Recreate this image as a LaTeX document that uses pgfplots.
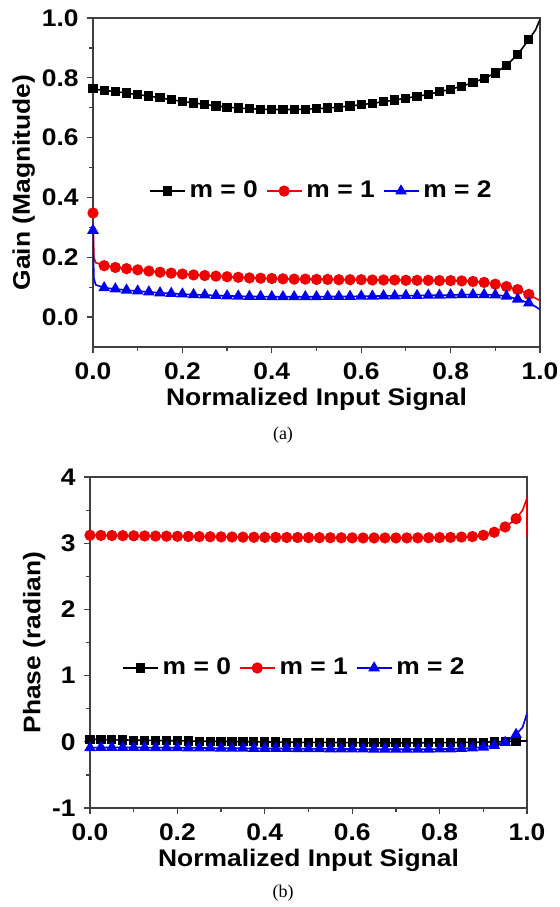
\documentclass[border=0pt]{standalone}
\usepackage{pgfplots}
\pgfplotsset{compat=1.18}
\usepackage{fontspec}
\setmainfont{Liberation Sans}[FakeStretch=1.1]
\newfontfamily\capfont{Liberation Serif}
\definecolor{myred}{RGB}{240,0,0}
\definecolor{myblue}{RGB}{0,0,240}
\begin{document}
\begin{tikzpicture}[x=1pt,y=1pt]
\path[use as bounding box] (0,0) rectangle (279.5,-453.5);
\pgfplotsset{
  onedec/.style={/pgf/number format/fixed, /pgf/number format/fixed zerofill, /pgf/number format/precision=1},
  myaxis/.style={
    scale only axis,
    xmin=0, xmax=1,
    axis line style={black!75, line width=0.6pt},
    tick style={black!75, line width=0.6pt},
    tick align=outside,
    xtick pos=left, ytick pos=left,
    major tick length=3pt, minor tick length=1.8pt,
    minor x tick num=1, minor y tick num=1,
    xtick={0,0.2,0.4,0.6,0.8,1},
    font=\fontsize{12}{13}\selectfont\bfseries,
    /pgf/number format/assume math mode=true,
    xticklabel style={onedec, inner sep=0pt, anchor=north},
    yticklabel style={inner sep=0pt, anchor=east},
    xticklabel shift=4.5pt,
    yticklabel shift=4pt,
    every axis x label/.style={at={(axis description cs:0.5,0)}, anchor=north, yshift=-20.5pt, inner sep=0pt},
    legend columns=3,
    legend cell align=left,
    legend style={draw=none, fill=none, font=\fontsize{12}{13}\selectfont\bfseries,
      /tikz/every even column/.append style={column sep=2pt}},
    legend image code/.code={\draw[##1, mark repeat=2, mark phase=2] plot coordinates {(0pt,0pt)(8.75pt,0pt)(17.5pt,0pt)};},
    blk/.style={black, line width=0.8pt, mark=square*, mark size=1.9pt, mark options={solid}},
    rd/.style={myred, line width=0.8pt, mark=*, mark size=2.4pt, mark options={solid}},
    bl/.style={myblue, line width=0.8pt, mark=triangle*, mark size=2.6pt, mark options={solid}},
  }
}
% ---------------- (a) ----------------
\begin{axis}[myaxis,
  at={(46.5pt,-173.5pt)}, anchor=south west,
  width=223.5pt, height=164.5pt,
  ymin=-0.1, ymax=1.0,
  ytick={0,0.2,0.4,0.6,0.8,1},
  yticklabel style={onedec},
  xlabel={Normalized Input Signal},
  ylabel={Gain (Magnitude)},
  every axis y label/.style={at={(axis description cs:-0.155,0.5)}, rotate=90, anchor=center, inner sep=0pt},
  legend style={at={(0.513,0.474)}, anchor=center},
]
\addplot[blk] coordinates {
(0,0.763)(0.025,0.758)(0.05,0.754)(0.075,0.749)(0.1,0.744)(0.125,0.739)(0.15,0.733)(0.175,0.727)
(0.2,0.721)(0.225,0.716)(0.25,0.711)(0.275,0.706)(0.3,0.702)(0.325,0.699)(0.35,0.697)(0.375,0.695)
(0.4,0.694)(0.425,0.694)(0.45,0.694)(0.475,0.695)(0.5,0.697)(0.525,0.699)(0.55,0.702)(0.575,0.706)
(0.6,0.710)(0.625,0.715)(0.65,0.720)(0.675,0.726)(0.7,0.732)(0.725,0.738)(0.75,0.745)(0.775,0.753)
(0.8,0.762)(0.825,0.772)(0.85,0.784)(0.875,0.798)(0.9,0.816)(0.925,0.842)(0.95,0.878)(0.975,0.928)};
\addlegendentry{m = 0}
\addplot[rd] coordinates {
(0.025,0.172)(0.05,0.166)(0.075,0.162)(0.1,0.158)(0.125,0.154)(0.15,0.150)(0.175,0.147)
(0.2,0.144)(0.225,0.141)(0.25,0.139)(0.275,0.137)(0.3,0.135)(0.325,0.133)(0.35,0.131)(0.375,0.130)
(0.4,0.129)(0.425,0.128)(0.45,0.127)(0.475,0.127)(0.5,0.126)(0.525,0.126)(0.55,0.125)(0.575,0.125)
(0.6,0.125)(0.625,0.124)(0.65,0.124)(0.675,0.124)(0.7,0.123)(0.725,0.123)(0.75,0.123)(0.775,0.122)
(0.8,0.122)(0.825,0.121)(0.85,0.119)(0.875,0.116)(0.9,0.110)(0.925,0.102)(0.95,0.092)(0.975,0.076)};
\addlegendentry{m = 1}
\addplot[bl] coordinates {
(0.025,0.098)(0.05,0.094)(0.075,0.090)(0.1,0.087)(0.125,0.084)(0.15,0.081)(0.175,0.079)
(0.2,0.077)(0.225,0.075)(0.25,0.074)(0.275,0.072)(0.3,0.071)(0.325,0.070)(0.35,0.069)(0.375,0.069)
(0.4,0.068)(0.425,0.068)(0.45,0.068)(0.475,0.068)(0.5,0.068)(0.525,0.069)(0.55,0.069)(0.575,0.069)
(0.6,0.070)(0.625,0.070)(0.65,0.071)(0.675,0.071)(0.7,0.072)(0.725,0.072)(0.75,0.073)(0.775,0.073)
(0.8,0.074)(0.825,0.075)(0.85,0.075)(0.875,0.075)(0.9,0.074)(0.925,0.070)(0.95,0.060)(0.975,0.047)};
\addlegendentry{m = 2}
% heads and tails
\addplot[blk, no marks, forget plot] coordinates {(0.975,0.928)(0.99,0.96)(1.0,0.995)};
\addplot[rd, mark indices={1}, forget plot] coordinates {(0,0.348)(0.002,0.20)(0.006,0.182)(0.025,0.172)};
\addplot[rd, no marks, forget plot] coordinates {(0.975,0.076)(1.0,0.055)};
\addplot[bl, mark indices={1}, forget plot] coordinates {(0,0.29)(0.002,0.13)(0.006,0.108)(0.025,0.098)};
\addplot[bl, no marks, forget plot] coordinates {(0.975,0.047)(0.99,0.035)(1.0,0.025)};
\end{axis}
% ---------------- (b) ----------------
\begin{axis}[myaxis,
  at={(45pt,-404pt)}, anchor=south west,
  width=218.5pt, height=165.5pt,
  ymin=-1, ymax=4,
  ytick={-1,0,1,2,3,4},
  xlabel={Normalized Input Signal},
  ylabel={Phase (radian)},
  every axis y label/.style={at={(axis description cs:-0.128,0.5)}, rotate=90, anchor=center, inner sep=0pt},
  legend style={at={(0.470,0.423)}, anchor=center},
]
\addplot[blk] coordinates {
(0,0.04)(0.025,0.035)(0.05,0.03)(0.075,0.028)(0.1,0.025)(0.125,0.022)(0.15,0.02)(0.175,0.018)
(0.2,0.015)(0.225,0.012)(0.25,0.01)(0.275,0.008)(0.3,0.005)(0.325,0.003)(0.35,0.001)(0.375,0)
(0.4,-0.002)(0.425,-0.004)(0.45,-0.005)(0.475,-0.007)(0.5,-0.008)(0.525,-0.009)(0.55,-0.01)(0.575,-0.011)
(0.6,-0.012)(0.625,-0.013)(0.65,-0.014)(0.675,-0.015)(0.7,-0.015)(0.725,-0.015)(0.75,-0.015)(0.775,-0.014)
(0.8,-0.013)(0.825,-0.012)(0.85,-0.01)(0.875,-0.008)(0.9,-0.005)(0.925,-0.002)(0.95,0.003)(0.975,0.01)};
\addlegendentry{m = 0}
\addplot[rd] coordinates {
(0,3.12)(0.025,3.118)(0.05,3.116)(0.075,3.114)(0.1,3.112)(0.125,3.11)(0.15,3.108)(0.175,3.106)
(0.2,3.104)(0.225,3.102)(0.25,3.1)(0.275,3.098)(0.3,3.096)(0.325,3.094)(0.35,3.092)(0.375,3.09)
(0.4,3.089)(0.425,3.088)(0.45,3.087)(0.475,3.086)(0.5,3.085)(0.525,3.084)(0.55,3.083)(0.575,3.082)
(0.6,3.081)(0.625,3.08)(0.65,3.08)(0.675,3.08)(0.7,3.08)(0.725,3.08)(0.75,3.081)(0.775,3.083)
(0.8,3.085)(0.825,3.088)(0.85,3.093)(0.875,3.10)(0.9,3.12)(0.925,3.165)(0.95,3.245)(0.975,3.37)};
\addlegendentry{m = 1}
\addplot[bl] coordinates {
(0,-0.09)(0.025,-0.086)(0.05,-0.085)(0.075,-0.085)(0.1,-0.086)(0.125,-0.087)(0.15,-0.088)(0.175,-0.089)
(0.2,-0.09)(0.225,-0.092)(0.25,-0.093)(0.275,-0.094)(0.3,-0.095)(0.325,-0.097)(0.35,-0.098)(0.375,-0.099)
(0.4,-0.10)(0.425,-0.101)(0.45,-0.102)(0.475,-0.104)(0.5,-0.105)(0.525,-0.106)(0.55,-0.107)(0.575,-0.108)
(0.6,-0.109)(0.625,-0.11)(0.65,-0.111)(0.675,-0.112)(0.7,-0.113)(0.725,-0.113)(0.75,-0.113)(0.775,-0.112)
(0.8,-0.11)(0.825,-0.107)(0.85,-0.102)(0.875,-0.094)(0.9,-0.08)(0.925,-0.055)(0.95,-0.01)(0.975,0.11)};
\addlegendentry{m = 2}
\addplot[blk, no marks, forget plot] coordinates {(0.975,0.01)(1.0,0.01)};
\addplot[rd, no marks, forget plot] coordinates {(0.975,3.37)(0.99,3.5)(1.0,3.68)(1.0,3.1)};
\addplot[bl, no marks, forget plot] coordinates {(0.975,0.11)(0.99,0.22)(1.0,0.43)};
\end{axis}
\node[font=\capfont\fontsize{9}{10}\selectfont] at (141.5,-217.5) {(a)};
\node[font=\capfont\fontsize{9}{10}\selectfont] at (141.5,-446.5) {(b)};
\end{tikzpicture}
\end{document}
